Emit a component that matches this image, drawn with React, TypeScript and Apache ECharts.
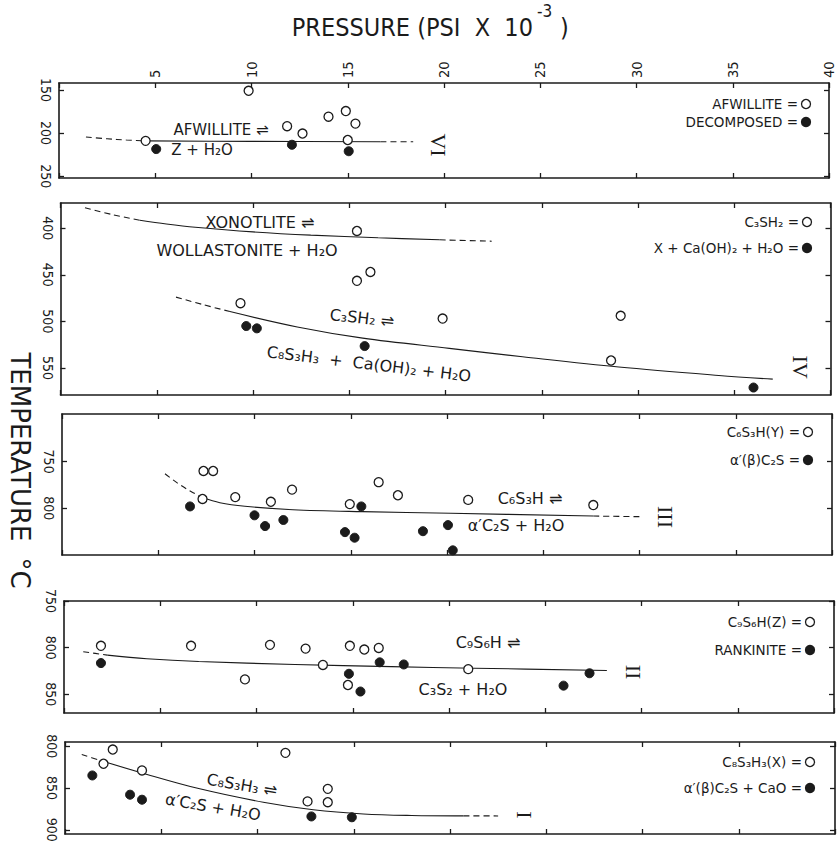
import React, { useEffect, useRef } from 'react';
import * as echarts from 'echarts';

// ---------------- DATA ----------------
// Pressure axis (psi x 10^-3)
const pressureTicks = [0, 5, 10, 15, 20, 25, 30, 35, 40];

// Panel VI : Afwillite
const tempTicksVI = [150, 200, 250];
const afwOpen = [[9.85, 151], [4.5, 209], [11.85, 192], [12.65, 200.5], [14.0, 181], [14.9, 174.5], [15.4, 189], [15.0, 208]];
const afwFilled = [[5.05, 218.5], [12.1, 213.5], [15.05, 221]];
const afwCurveDashL = [[1.4, 204.5], [2.5, 206.6], [3.5, 208], [4.5, 209]];
const afwCurveSolid = [[4.5, 209], [10, 209.6], [16.7, 210]];
const afwCurveDashR = [[16.7, 210], [18.4, 210]];

// Panel IV : C3SH2 / Xonotlite
const tempTicksIV = [400, 450, 500, 550];
const c3sh2Open = [[15.4, 403], [15.4, 456.5], [16.1, 447], [9.35, 480.5], [19.85, 497], [29.1, 494], [28.6, 542]];
const c3sh2Filled = [[9.65, 505], [10.2, 507.5], [15.8, 526.5], [36.0, 571]];
const xonCurveDash = [[1.27, 378], [2.7, 385.5], [4.12, 391.5]];
const xonCurveSolid = [[4.12, 391.5], [5.5, 395.5], [7.0, 399], [10, 404], [13, 407.5], [16.5, 410.3], [19.7, 412.5]];
const xonCurveDashR = [[19.7, 412.5], [22.4, 414]];
const c3shCurveDash = [[6.0, 474], [7.4, 482], [8.8, 489.5]];
const c3shCurveSolid = [[8.8, 489.5], [12.3, 506], [15.7, 518], [20.2, 529], [24, 538], [29.0, 549], [34.2, 558], [37.0, 562]];

// Panel III : C6S3H(Y)
const tempTicksIII = [750, 800];
const yOpen = [[7.35, 760], [7.85, 760], [7.3, 790], [9.0, 788], [10.85, 793], [11.95, 780], [14.95, 795.5], [16.45, 772], [17.45, 786], [21.1, 791], [27.6, 796.5]];
const yFilled = [[6.65, 798], [10.0, 807.5], [10.55, 819], [11.5, 812.5], [15.55, 798], [14.7, 825.5], [15.2, 831.5], [18.75, 824.5], [20.05, 818], [20.3, 845]];
const yCurveDash = [[5.35, 763], [6.0, 773], [6.7, 782], [7.3, 788.5]];
const yCurveSolid = [[7.3, 788.5], [8.2, 794], [9.5, 797.8], [12, 801.5], [15.6, 803.6], [20.2, 805.3], [27.6, 808.3]];
const yCurveDashR = [[27.6, 808.3], [30.2, 809]];

// Panel II : C9S6H(Z)
const tempTicksII = [750, 800, 850];
const zOpen = [[1.92, 798], [6.6, 798], [9.4, 834], [10.7, 797], [12.55, 801], [13.45, 818.5], [14.85, 798], [15.6, 802], [16.35, 800.3], [14.75, 840], [21.0, 823]];
const zFilled = [[1.92, 816.5], [14.8, 828], [15.4, 847], [16.4, 815.7], [17.65, 818], [27.3, 827.4], [25.95, 840.7]];
const zCurveDash = [[1.0, 804.3], [2.25, 808]];
const zCurveSolid = [[2.25, 808], [4.3, 811.8], [7, 814.8], [12, 818], [17, 820.3], [21.3, 822], [28.2, 824.4]];

// Panel I : C8S3H3(X)
const tempTicksI = [800, 850, 900];
const xOpen = [[2.48, 804], [2.0, 821], [4.0, 829], [11.45, 808], [12.6, 866], [13.65, 851], [13.65, 867]];
const xFilled = [[1.42, 835], [3.38, 858], [4.0, 864], [12.8, 884], [14.9, 885]];
const xCurveDash = [[0.87, 810], [1.9, 817.5]];
const xCurveSolid = [[1.9, 817.5], [4.0, 832], [7, 851], [10.3, 867], [12.9, 876], [15.5, 881], [18, 882.8], [20.7, 883.3]];
const xCurveDashR = [[20.7, 883.3], [22.5, 883.4]];

// ---------------- LAYOUT / STYLE ----------------
const W = 837;
const H = 852;
const INK = '#1b1b1b';
const NARROW = "'Liberation Sans Narrow', 'DejaVu Sans Condensed', 'Liberation Sans', sans-serif";
const SANS = "'DejaVu Sans', 'Liberation Sans', sans-serif";
const SERIF = "'Liberation Serif', 'DejaVu Serif', serif";
const PW = 770;

const panels = [
  { left: 59, top: 83, height: 95, min: 142, max: 252, ticks: tempTicksVI, topLabels: true,
    open: afwOpen, filled: afwFilled, solid: [afwCurveSolid], dashed: [afwCurveDashL, afwCurveDashR] },
  { left: 60.5, top: 203, height: 192, min: 373, max: 579, ticks: tempTicksIV, topLabels: false,
    open: c3sh2Open, filled: c3sh2Filled, solid: [xonCurveSolid, c3shCurveSolid], dashed: [xonCurveDash, xonCurveDashR, c3shCurveDash] },
  { left: 62, top: 414, height: 141, min: 699, max: 850, ticks: tempTicksIII, topLabels: false,
    open: yOpen, filled: yFilled, solid: [yCurveSolid], dashed: [yCurveDash, yCurveDashR] },
  { left: 64, top: 601, height: 112, min: 750, max: 870, ticks: tempTicksII, topLabels: false,
    open: zOpen, filled: zFilled, solid: [zCurveSolid], dashed: [zCurveDash] },
  { left: 65, top: 742, height: 92, min: 795, max: 905, ticks: tempTicksI, topLabels: false,
    open: xOpen, filled: xFilled, solid: [xCurveSolid], dashed: [xCurveDash, xCurveDashR] },
];

function txt(text: string, x: number, y: number, size: number, opts: any = {}) {
  return {
    type: 'text',
    x, y,
    rotation: opts.rotation || 0,
    silent: true,
    z: 50,
    style: {
      text,
      fill: INK,
      fontSize: size,
      fontFamily: opts.family || SANS,
      fontWeight: opts.weight || 'normal',
      align: opts.align || 'center',
      verticalAlign: 'middle',
      textAlign: opts.align || 'center',
      textVerticalAlign: 'middle',
    },
  };
}

function dot(cx: number, cy: number, filled: boolean) {
  return {
    type: 'circle',
    silent: true,
    z: 50,
    shape: { cx, cy, r: 4.5 },
    style: { fill: filled ? INK : '#fff', stroke: INK, lineWidth: 1.3 },
  };
}

function legend(y1: number, t1: string, y2: number, t2: string, cx: number) {
  return [
    txt(t1 + ' =', cx - 8, y1, 13.5, { align: 'right' }),
    dot(cx, y1, false),
    txt(t2 + ' =', cx - 8, y2, 13.5, { align: 'right' }),
    dot(cx, y2, true),
  ];
}

function buildOption() {
  const grid: any[] = [];
  const xAxis: any[] = [];
  const yAxis: any[] = [];
  const series: any[] = [];
  const axisLine = { show: true, onZero: false, lineStyle: { color: INK, width: 1.6 } };
  const axisTickBase = { show: true, inside: true, length: 5, lineStyle: { color: INK, width: 1.3 } };

  panels.forEach((p, i) => {
    grid.push({ left: p.left, top: p.top, width: PW, height: p.height });
    const xBase = {
      gridIndex: i, type: 'value', min: pressureTicks[0], max: pressureTicks[pressureTicks.length - 1], interval: 5,
      axisLine, axisTick: axisTickBase, splitLine: { show: false },
    };
    xAxis.push({ ...xBase, position: 'bottom', axisLabel: { show: false } });
    xAxis.push({
      ...xBase, position: 'top',
      axisLabel: p.topLabels
        ? { show: true, rotate: -90, fontSize: 14.5, color: INK, fontFamily: NARROW, margin: 5,
            formatter: (v: number) => (v === 0 ? '' : String(v)) }
        : { show: false },
    });
    const yBase = {
      gridIndex: i, type: 'value', inverse: true, min: p.min, max: p.max,
      axisLine, splitLine: { show: false },
      axisTick: { ...axisTickBase, customValues: p.ticks },
    };
    yAxis.push({
      ...yBase, position: 'left',
      axisLabel: { show: true, customValues: p.ticks, rotate: -90, fontSize: 14, color: INK, fontFamily: NARROW, margin: 6 },
    });
    yAxis.push({ ...yBase, position: 'right', axisLabel: { show: false } });

    const xi = 2 * i;
    const yi = 2 * i;
    p.solid.forEach((c) => series.push({
      type: 'line', xAxisIndex: xi, yAxisIndex: yi, data: c, symbol: 'none', showSymbol: false,
      smooth: 0.35, silent: true, z: 2,
      lineStyle: { color: INK, width: 1.1, type: 'solid' },
    }));
    p.dashed.forEach((c) => series.push({
      type: 'line', xAxisIndex: xi, yAxisIndex: yi, data: c, symbol: 'none', showSymbol: false,
      smooth: 0.35, silent: true, z: 2,
      lineStyle: { color: INK, width: 1.1, type: [6, 4] },
    }));
    series.push({
      type: 'scatter', xAxisIndex: xi, yAxisIndex: yi, data: p.open, symbol: 'circle', symbolSize: 9, z: 4,
      itemStyle: { color: '#fff', borderColor: INK, borderWidth: 1.3, opacity: 1 },
    });
    series.push({
      type: 'scatter', xAxisIndex: xi, yAxisIndex: yi, data: p.filled, symbol: 'circle', symbolSize: 9, z: 5,
      itemStyle: { color: INK, borderColor: INK, borderWidth: 1, opacity: 1 },
    });
  });

  const rot90 = -Math.PI / 2;
  const graphic: any[] = [
    // titles
    txt('PRESSURE (PSI  X  10', 533, 27, 25, { align: 'right', family: NARROW }),
    txt('-3', 537, 11, 17, { align: 'left', family: NARROW }),
    txt(')', 560, 27, 25, { align: 'left', family: NARROW }),
    txt('TEMPERATURE', 20, 447, 26, { rotation: rot90 }),
    txt('°C', 20, 573, 26, { rotation: rot90 }),

    // panel VI
    txt('AFWILLITE ⇌', 221, 130, 15),
    txt('Z + H₂O', 202, 150, 15),
    txt('VI', 438, 145, 22, { rotation: rot90, family: SERIF }),
    ...legend(104, 'AFWILLITE', 122, 'DECOMPOSED', 806),

    // panel IV
    txt('XONOTLITE ⇌', 260, 222, 16),
    txt('WOLLASTONITE + H₂O', 247, 250, 16),
    txt('C₃SH₂ ⇌', 362, 318, 16, { rotation: -0.11 }),
    txt('C₈S₃H₃  +  Ca(OH)₂ + H₂O', 369, 364, 16, { rotation: -0.12 }),
    txt('IV', 800, 367, 22, { rotation: rot90, family: SERIF }),
    ...legend(222, 'C₃SH₂', 248, 'X + Ca(OH)₂ + H₂O', 807),

    // panel III
    txt('C₆S₃H ⇌', 530, 498, 16),
    txt('α′C₂S + H₂O', 516, 525, 16),
    txt('III', 665, 517, 22, { rotation: rot90, family: SERIF }),
    ...legend(432, 'C₆S₃H(Y)', 460, 'α′(β)C₂S', 808),

    // panel II
    txt('C₉S₆H ⇌', 488, 642, 16),
    txt('C₃S₂ + H₂O', 463, 689, 16),
    txt('II', 633, 672, 22, { rotation: rot90, family: SERIF }),
    ...legend(622, 'C₉S₆H(Z)', 650, 'RANKINITE', 810),

    // panel I
    txt('C₈S₃H₃ ⇌', 242, 785, 16, { rotation: -0.165 }),
    txt('α′C₂S + H₂O', 213, 807, 16, { rotation: -0.17 }),
    txt('I', 524, 815, 22, { rotation: rot90, family: SERIF }),
    ...legend(762, 'C₈S₃H₃(X)', 788, 'α′(β)C₂S + CaO', 810),
  ];

  return {
    animation: false,
    backgroundColor: '#fff',
    grid, xAxis, yAxis, series, graphic,
  };
}

export default function App() {
  const ref = useRef<HTMLDivElement>(null);
  useEffect(() => {
    if (!ref.current) return;
    const chart = echarts.init(ref.current, null, { renderer: 'svg' });
    chart.setOption(buildOption());
    return () => chart.dispose();
  }, []);
  return (
    <div
      ref={ref}
      style={{ position: 'fixed', left: 0, top: 0, width: W, height: H, background: '#fff' }}
    />
  );
}
